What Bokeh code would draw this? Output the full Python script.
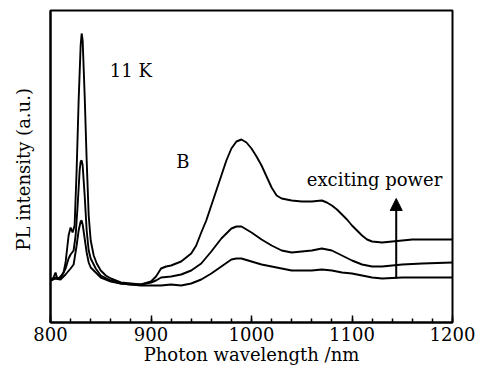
from bokeh.plotting import figure
from bokeh.models import Range1d, SingleIntervalTicker, FixedTicker, Label, Arrow, NormalHead
from bokeh.embed import file_html
from bokeh.resources import INLINE

# Photon wavelength (nm) and PL intensity (a.u.) for three exciting powers
x_high = [800, 803, 805, 807, 810, 813, 815, 818, 820, 822, 824, 826, 828, 830, 831, 832, 834, 836, 838, 840,
          843, 846, 850, 855, 860, 870, 880, 890, 900, 905, 910, 915, 920, 930, 940, 945, 950, 955, 960, 965,
          970, 975, 980, 985, 990, 995, 1000, 1005, 1010, 1015, 1020, 1025, 1030, 1040, 1050, 1060, 1070, 1075,
          1080, 1085, 1090, 1095, 1100, 1105, 1110, 1115, 1120, 1130, 1140, 1150, 1160, 1170, 1180, 1190, 1200]
y_high = [42, 45, 50, 43, 46, 50, 60, 87, 95, 90, 97, 152, 222, 277, 289, 282, 227, 162, 107, 82,
          67, 59, 52, 47, 44, 40, 39, 38, 41, 46, 54, 56, 57, 61, 69, 77, 90, 102, 117, 132,
          147, 162, 174, 181, 183, 180, 174, 166, 157, 146, 135, 127, 124, 122, 121, 121, 122, 120,
          117, 113, 108, 103, 97, 92, 87, 83, 81, 80, 81, 82, 83, 83, 83, 83, 83]

x_mid = [800, 805, 810, 815, 818, 820, 823, 825, 827, 829, 830, 831, 832, 834, 836, 838, 840, 845, 850, 860,
         870, 880, 890, 900, 905, 910, 920, 930, 940, 950, 960, 970, 980, 985, 990, 1000, 1010, 1020, 1030,
         1040, 1050, 1060, 1070, 1080, 1090, 1100, 1110, 1120, 1130, 1140, 1150, 1170, 1200]
y_mid = [42, 45, 44, 54, 64, 68, 72, 87, 117, 152, 161, 162, 157, 127, 92, 72, 64, 54, 47, 42,
         39, 38, 38, 40, 42, 45, 46, 48, 52, 59, 71, 84, 94, 96, 96, 90, 83, 77, 72,
         70, 71, 72, 74, 72, 67, 62, 58, 56, 56, 57, 58, 59, 60]

x_low = [800, 805, 810, 815, 820, 823, 826, 828, 830, 831, 832, 834, 836, 838, 840, 845, 850, 860, 870, 880,
         890, 900, 910, 920, 930, 940, 950, 960, 970, 980, 985, 990, 1000, 1010, 1020, 1030, 1040, 1050,
         1060, 1070, 1080, 1090, 1100, 1110, 1120, 1130, 1150, 1170, 1200]
y_low = [42, 44, 43, 48, 54, 58, 77, 92, 101, 102, 98, 84, 70, 60, 55, 50, 45, 41, 39, 38,
         37, 37, 37, 38, 37, 39, 43, 49, 56, 63, 64, 64, 61, 58, 56, 54, 52, 52,
         52, 53, 52, 50, 49, 47, 45, 44, 45, 45, 45]

x_ticks_major = [800, 900, 1000, 1100, 1200]

FONT = "DejaVu Serif"

p = figure(width=486, height=369, output_backend="svg", toolbar_location=None,
           x_range=Range1d(800, 1200), y_range=Range1d(0, 312),
           min_border_left=50, min_border_right=34, min_border_top=10, min_border_bottom=47)
p.frame_width = 402
p.frame_height = 312
p.background_fill_color = "white"
p.border_fill_color = "white"
p.outline_line_color = "black"
p.outline_line_width = 2
p.grid.visible = False

for xs, ys in [(x_low, y_low), (x_mid, y_mid), (x_high, y_high)]:
    p.line(xs, ys, line_color="black", line_width=1.9)

xa = p.xaxis[0]
xa.ticker = SingleIntervalTicker(interval=100, num_minor_ticks=5)
xa.axis_line_width = 2
xa.axis_line_color = "black"
xa.major_tick_in = 7
xa.major_tick_out = 0
xa.minor_tick_in = 4
xa.minor_tick_out = 0
xa.major_tick_line_width = 1.5
xa.minor_tick_line_width = 1.5
xa.major_tick_line_color = "black"
xa.minor_tick_line_color = "black"
xa.major_label_text_font = FONT
xa.major_label_text_font_size = "18px"
xa.major_label_text_color = "black"
xa.major_label_standoff = 4
xa.axis_label = "Photon wavelength /nm"
xa.axis_label_text_font = FONT
xa.axis_label_text_font_size = "18px"
xa.axis_label_text_font_style = "normal"
xa.axis_label_text_color = "black"
xa.axis_label_standoff = 0

ya = p.yaxis[0]
ya.ticker = FixedTicker(ticks=[])
ya.axis_line_width = 2
ya.axis_line_color = "black"
ya.major_tick_in = 0
ya.major_tick_out = 0
ya.minor_tick_in = 0
ya.minor_tick_out = 0
ya.axis_label = "PL intensity  (a.u.)"
ya.axis_label_text_font = FONT
ya.axis_label_text_font_size = "18px"
ya.axis_label_text_font_style = "normal"
ya.axis_label_text_color = "black"
ya.axis_label_standoff = 17

for txt, x, y in [("11 K", 859, 252), ("B", 925, 161), ("exciting power", 1055, 143)]:
    p.add_layout(Label(x=x, y=y, text=txt, text_font=FONT, text_font_size="18px",
                       text_color="black", text_baseline="alphabetic"))

p.add_layout(Arrow(end=NormalHead(size=12, fill_color="black", line_color="black"),
                   x_start=1144, y_start=44, x_end=1144, y_end=124,
                   line_color="black", line_width=2))

open("out.html", "w").write(file_html(p, INLINE))
